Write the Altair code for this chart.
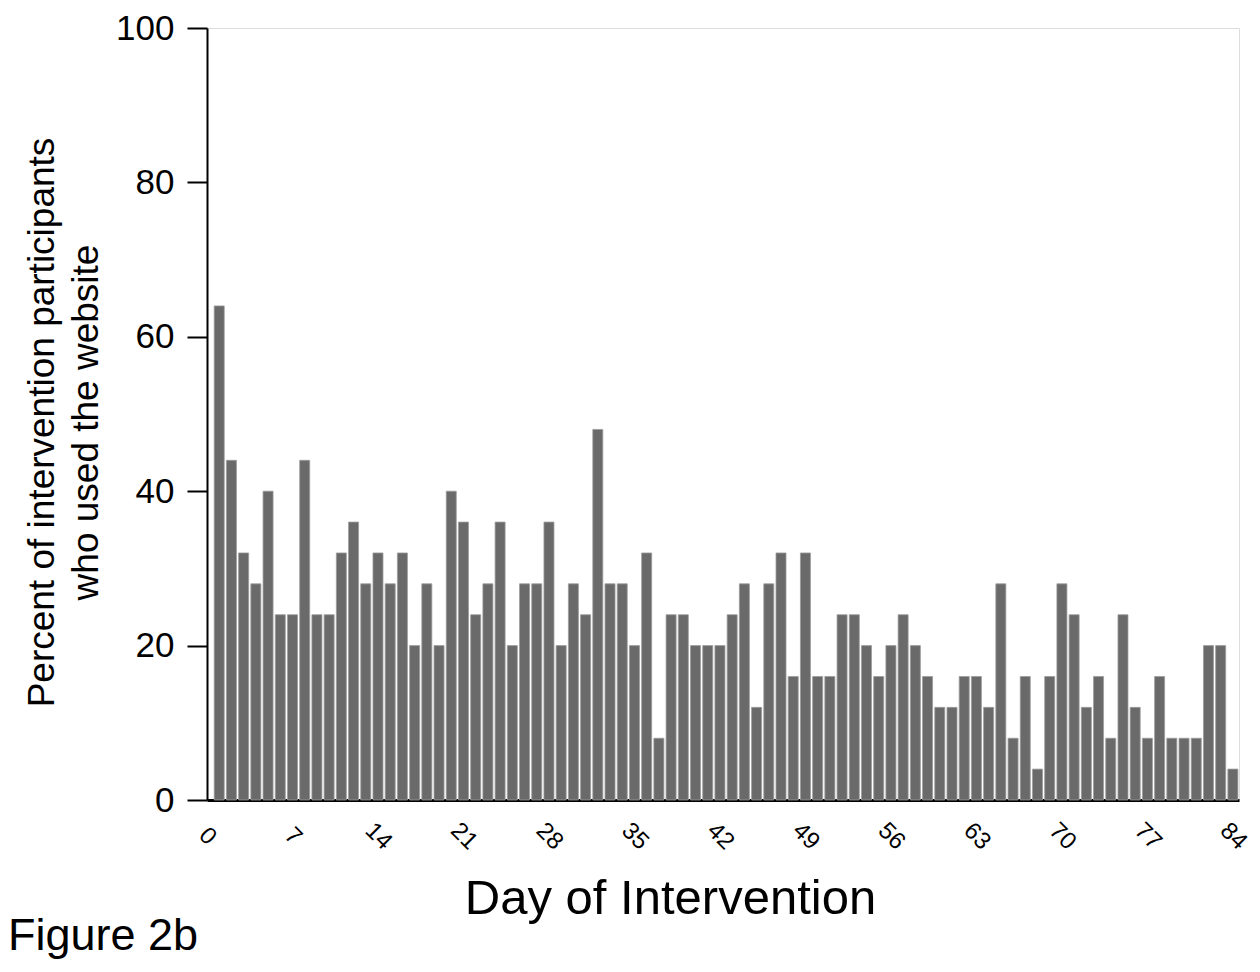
import altair as alt
import pandas as pd

days = list(range(1, 85))
percent = [64, 44, 32, 28, 40, 24, 24, 44, 24, 24,
           32, 36, 28, 32, 28, 32, 20, 28, 20, 40,
           36, 24, 28, 36, 20, 28, 28, 36, 20, 28,
           24, 48, 28, 28, 20, 32, 8, 24, 24, 20,
           20, 20, 24, 28, 12, 28, 32, 16, 32, 16,
           16, 24, 24, 20, 16, 20, 24, 20, 16, 12,
           12, 16, 16, 12, 28, 8, 16, 4, 16, 28,
           24, 12, 16, 8, 24, 12, 8, 16, 8, 8,
           8, 20, 20, 4]
x_ticks = [0, 7, 14, 21, 28, 35, 42, 49, 56, 63, 70, 77, 84]
y_ticks = [0, 20, 40, 60, 80, 100]

df = pd.DataFrame({"day": days, "pct": percent})

FONT = "Liberation Sans"

chart = (
    alt.Chart(df)
    .transform_calculate(x0="datum.day - 0.41", x1="datum.day + 0.41")
    .mark_bar(color="#6a6a6a", stroke="#9c9c9c", strokeWidth=0.8)
    .encode(
        x=alt.X(
            "x0:Q",
            scale=alt.Scale(domain=[0, 84.5], nice=False, zero=False),
            axis=alt.Axis(
                values=x_ticks,
                title="Day of Intervention",
                titleFont=FONT,
                titleFontSize=49,
                titleFontWeight="normal",
                titleColor="black",
                titleX=463,
                titleY=113,
                titleAlign="center",
                titleBaseline="alphabetic",
                labelFont=FONT,
                labelFontSize=24,
                labelColor="black",
                labelAngle=45,
                labelAlign="center",
                labelBaseline="middle",
                labelPadding=36,
                ticks=False,
                domainColor="black",
                domainWidth=3,
                grid=False,
                labelOverlap=False,
            ),
        ),
        x2="x1:Q",
        y=alt.Y(
            "pct:Q",
            scale=alt.Scale(domain=[0, 100], nice=False),
            axis=alt.Axis(
                values=y_ticks,
                title=["Percent of intervention participants", "who used the website"],
                titleFont=FONT,
                titleFontSize=37,
                titleFontWeight="normal",
                titleColor="black",
                titleAngle=-90,
                titleX=-165,
                titleY=394,
                titleAlign="center",
                titleBaseline="middle",
                titleLineHeight=44,
                labelFont=FONT,
                labelFontSize=35,
                labelColor="black",
                labelPadding=13,
                tickSize=20,
                tickWidth=2,
                tickColor="black",
                domainColor="black",
                domainWidth=2,
                grid=False,
            ),
        ),
        y2=alt.datum(0),
    )
    .properties(
        width=1032,
        height=772,
        padding={"left": 199, "top": 20, "right": 13, "bottom": 160},
        autosize=alt.AutoSizeParams(type="none"),
        title=alt.TitleParams(
            text="Figure 2b",
            orient="bottom",
            anchor="start",
            frame="group",
            font=FONT,
            fontSize=45,
            fontWeight="normal",
            color="black",
            dx=-199,
            offset=0,
            dy=-9,
        ),
    )
    .configure_view(strokeWidth=0, stroke="transparent")
    .configure(background="white")
)

chart.save("out.html", embed_options={"renderer": "svg", "actions": False})
